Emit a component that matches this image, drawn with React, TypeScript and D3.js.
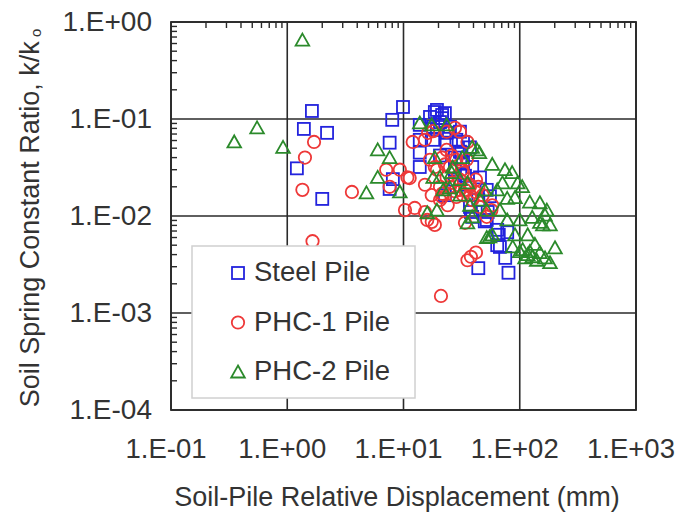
import * as d3 from "d3";

// [displacement (mm), k/k0]
const steelPile: [number, number][] = [
  [1.63, 0.121], [1.39, 0.079], [2.2, 0.072], [1.21, 0.031], [2.0, 0.015],
  [9.9, 0.133], [8.0, 0.098], [7.6, 0.057], [8.1, 0.024], [7.6, 0.019],
  [13.8, 0.087], [13.8, 0.061], [13.8, 0.045], [13.8, 0.032],
  [16.9, 0.105], [19.4, 0.124], [22.7, 0.115], [20.6, 0.093], [18, 0.083],
  [25.1, 0.083], [21.5, 0.102], [30.6, 0.074], [32.5, 0.058], [18, 0.061],
  [23.5, 0.057], [30.6, 0.046], [32.5, 0.036], [20.6, 0.042], [27.7, 0.03],
  [33.8, 0.026], [45.5, 0.025], [52, 0.0186], [55.4, 0.016], [39, 0.032],
  [37.3, 0.0124], [39, 0.0098], [52, 0.0091], [38, 0.011], [50, 0.0088],
  [64, 0.0072], [66, 0.0064], [78, 0.0068], [64, 0.005], [67.5, 0.0048],
  [75, 0.0037], [44, 0.0029], [80, 0.0026], [53, 0.011], [37.3, 0.051],
  [27.7, 0.0237], [22.7, 0.0164], [18.6, 0.118], [21.5, 0.11], [19.4, 0.077],
  [23.5, 0.072], [28.5, 0.061], [31.5, 0.045], [27.7, 0.04], [35.5, 0.021],
  [44, 0.0146],
];

const phc1Pile: [number, number][] = [
  [1.7, 0.058], [1.42, 0.04], [1.35, 0.0186], [3.6, 0.0177], [1.65, 0.0055],
  [21, 0.0015], [7.1, 0.03], [9.3, 0.03], [11.3, 0.0246], [7.6, 0.02],
  [12, 0.058], [15.3, 0.061], [18, 0.075], [12.5, 0.0121], [15.3, 0.011],
  [17.5, 0.0087], [10.3, 0.0115], [33.8, 0.0085], [35.5, 0.0035], [38, 0.0038],
  [42, 0.0042], [16.3, 0.072], [30.6, 0.074], [23.5, 0.048], [21.5, 0.04],
  [18.6, 0.032], [25.1, 0.032], [32, 0.03], [10.8, 0.025], [20.6, 0.02],
  [26, 0.022], [30.6, 0.0186], [37.3, 0.021], [42, 0.0176], [21.5, 0.0157],
  [28.5, 0.0157], [23.5, 0.025], [28.5, 0.038], [35, 0.038], [25.1, 0.02],
  [30.6, 0.0237], [37.3, 0.02], [32.5, 0.0164], [39, 0.0146], [45.5, 0.0124],
  [52, 0.0098], [32.5, 0.028], [42, 0.0237], [48, 0.0164], [58, 0.0129],
  [57, 0.0115], [21.5, 0.017], [16, 0.0091], [18.6, 0.0081], [27.7, 0.081],
  [23.5, 0.074], [35.5, 0.058], [16.9, 0.038], [19.4, 0.03], [22.7, 0.034],
  [26, 0.042], [33.8, 0.0186], [27.7, 0.018], [24, 0.0129], [37.3, 0.0164],
  [44, 0.02], [20.6, 0.0146], [15.3, 0.021], [17.5, 0.0164],
];

const phc2Pile: [number, number][] = [
  [1.35, 0.65], [0.55, 0.081], [0.35, 0.058], [0.92, 0.051], [4.8, 0.0173],
  [6.0, 0.048], [7.6, 0.04], [6.0, 0.025], [9.3, 0.0177], [13.8, 0.091],
  [17.5, 0.087], [23.5, 0.087], [43, 0.048], [18.6, 0.04], [26, 0.028],
  [30.6, 0.0237], [20.6, 0.025], [25, 0.0195], [18, 0.025], [26.5, 0.032],
  [35.5, 0.022], [45.5, 0.0146], [52, 0.0115], [39, 0.0098], [35.5, 0.0085],
  [19.4, 0.0115], [16, 0.0108], [58, 0.034], [74.6, 0.03], [86, 0.028],
  [96, 0.022], [78, 0.0152], [91, 0.0155], [122, 0.0139], [149, 0.0137],
  [171, 0.0115], [128, 0.0097], [149, 0.0086], [182, 0.0081], [117, 0.0064],
  [106, 0.0045], [122, 0.0043], [149, 0.0042], [201, 0.0047], [182, 0.0033],
  [140, 0.0035], [100, 0.0091], [78, 0.0091], [67.5, 0.0115], [58, 0.0064],
  [52, 0.006], [87, 0.0048], [55, 0.0061], [105, 0.0201], [165, 0.0102],
  [158, 0.0081], [39, 0.051], [45, 0.045], [32, 0.04], [22, 0.0186],
  [30.6, 0.0164], [37.3, 0.0129], [50, 0.0186], [135, 0.0051], [165, 0.0037],
  [111, 0.0037], [91, 0.0064], [64, 0.0186], [71, 0.022], [117, 0.004],
  [128, 0.0038], [100, 0.0043],
];

const seriesNames = ["Steel Pile", "PHC-1 Pile", "PHC-2 Pile"];
const xTickValues = [0.1, 1, 10, 100, 1000];
const xTickLabels = ["1.E-01", "1.E+00", "1.E+01", "1.E+02", "1.E+03"];
const yTickValues = [1, 0.1, 0.01, 0.001, 0.0001];
const yTickLabels = ["1.E+00", "1.E-01", "1.E-02", "1.E-03", "1.E-04"];

const W = 684;
const H = 516;
const left = 171, right = 636, top = 22, bottom = 410;
const font = "'Liberation Sans', Arial, sans-serif";
const textColor = "#333";
const lineColor = "#2a2a2a";

const blue = "#2323dd";
const red = "#ee3838";
const green = "#2b8a2b";

function Square({ x, y, c }: { x: number; y: number; c: string }) {
  return <rect x={x - 6} y={y - 6} width={12} height={12} fill="none" stroke={c} strokeWidth={1.8} />;
}
function Circle({ x, y, c }: { x: number; y: number; c: string }) {
  return <circle cx={x} cy={y} r={6.2} fill="none" stroke={c} strokeWidth={1.8} />;
}
function Triangle({ x, y, c }: { x: number; y: number; c: string }) {
  return (
    <path
      d={`M${x},${y - 6.5}L${x + 6.8},${y + 5.5}L${x - 6.8},${y + 5.5}Z`}
      fill="none"
      stroke={c}
      strokeWidth={1.8}
    />
  );
}

export default function App() {
  const x = d3.scaleLog().domain([0.1, 1000]).range([left, right]);
  const y = d3.scaleLog().domain([0.0001, 1]).range([bottom, top]);
  const xMinor = x.ticks().filter((v) => !xTickValues.some((t) => Math.abs(t - v) < 1e-9));
  const yMinor = y.ticks().filter((v) => !yTickValues.some((t) => Math.abs(t - v) < 1e-12));

  const legendRows = [
    { name: seriesNames[0], M: Square, c: blue },
    { name: seriesNames[1], M: Circle, c: red },
    { name: seriesNames[2], M: Triangle, c: green },
  ];

  return (
    <svg
      width={W}
      height={H}
      style={{ position: "absolute", left: 0, top: 0, background: "#fff" }}
      fontFamily={font}
    >
      {/* grid */}
      {xTickValues.map((v) => (
        <line key={"gx" + v} x1={x(v)} x2={x(v)} y1={top} y2={bottom} stroke={lineColor} strokeWidth={1.6} />
      ))}
      {yTickValues.map((v) => (
        <line key={"gy" + v} x1={left} x2={right} y1={y(v)} y2={y(v)} stroke={lineColor} strokeWidth={1.6} />
      ))}
      {/* minor ticks, left and top only */}
      {yMinor.map((v) => (
        <line key={"my" + v} x1={left} x2={left + 6} y1={y(v)} y2={y(v)} stroke={lineColor} strokeWidth={1.4} />
      ))}
      {xMinor.map((v) => (
        <line key={"mx" + v} x1={x(v)} x2={x(v)} y1={top} y2={top + 6} stroke={lineColor} strokeWidth={1.4} />
      ))}
      <rect x={left} y={top} width={right - left} height={bottom - top} fill="none" stroke={lineColor} strokeWidth={1.8} />

      {/* data */}
      {steelPile.map(([a, b], i) => (
        <Square key={"s" + i} x={x(a)} y={y(b)} c={blue} />
      ))}
      {phc1Pile.map(([a, b], i) => (
        <Circle key={"r" + i} x={x(a)} y={y(b)} c={red} />
      ))}
      {phc2Pile.map(([a, b], i) => (
        <Triangle key={"g" + i} x={x(a)} y={y(b)} c={green} />
      ))}

      {/* legend */}
      <rect x={192} y={246} width={223} height={152} fill="#fff" stroke="#d0d0d0" strokeWidth={1.5} />
      {legendRows.map((r, i) => {
        const cy = 273 + i * 49.5;
        const M = r.M;
        return (
          <g key={r.name}>
            <M x={238} y={cy} c={r.c} />
            <text x={254} y={cy + 8} fontSize={27.5} fill={textColor}>
              {r.name}
            </text>
          </g>
        );
      })}

      {/* tick labels */}
      {yTickValues.map((v, i) => (
        <text key={"ty" + v} x={152} y={y(v) + 9} textAnchor="end" fontSize={28} fill={textColor}>
          {yTickLabels[i]}
        </text>
      ))}
      {xTickValues.map((v, i) => (
        <text key={"tx" + v} x={x(v) - 5} y={458} textAnchor="middle" fontSize={27.5} fill={textColor}>
          {xTickLabels[i]}
        </text>
      ))}

      {/* axis titles */}
      <text x={397} y={506} textAnchor="middle" fontSize={27} fill={textColor}>
        Soil-Pile Relative Displacement (mm)
      </text>
      <text transform={`translate(39,${(top + bottom) / 2 + 2}) rotate(-90)`} textAnchor="middle" fontSize={27} fill={textColor}>
        Soil Spring Constant Ratio, k/k
        <tspan fontSize={15} dy={2}> o</tspan>
      </text>
    </svg>
  );
}
